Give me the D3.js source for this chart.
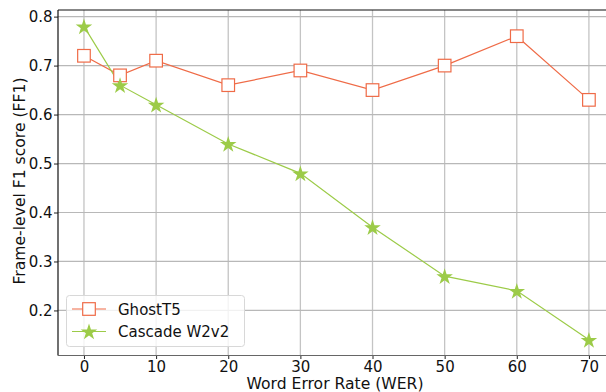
<!DOCTYPE html>
<html>
<head>
<meta charset="utf-8">
<script src="https://cdn.jsdelivr.net/npm/d3@7"></script>
<style>
  body { margin: 0; background: #fff; }
  svg { display: block; font-family: "DejaVu Sans", sans-serif; }
</style>
</head>
<body>
<div id="chart"></div>
<script>
// WER levels and FF1 scores
var wer = [0, 5, 10, 20, 30, 40, 50, 60, 70];
var ghostT5 = [0.72, 0.68, 0.71, 0.66, 0.69, 0.65, 0.70, 0.76, 0.63];
var cascadeW2v2 = [0.78, 0.66, 0.62, 0.54, 0.48, 0.37, 0.27, 0.24, 0.14];
var xTicks = [0, 10, 20, 30, 40, 50, 60, 70];
var yTicks = [0.2, 0.3, 0.4, 0.5, 0.6, 0.7, 0.8];

var W = 606, H = 392;
var pLeft = 58, pTop = 10, pRight = 612, pBottom = 355.5;

var svg = d3.select("#chart").append("svg")
    .attr("width", W)
    .attr("height", H);

var x = d3.scaleLinear().domain([-3.6, 73.2]).range([pLeft, pRight]);
var y = d3.scaleLinear().domain([0.108, 0.8135]).range([pBottom, pTop]);

// grid
svg.append("g").selectAll("line").data(xTicks).enter().append("line")
    .attr("x1", d => x(d)).attr("x2", d => x(d))
    .attr("y1", pTop).attr("y2", pBottom)
    .attr("stroke", "#c4c4c4").attr("stroke-width", 1.3);
svg.append("g").selectAll("line").data(yTicks).enter().append("line")
    .attr("x1", pLeft).attr("x2", pRight)
    .attr("y1", d => y(d)).attr("y2", d => y(d))
    .attr("stroke", "#b8b8b8").attr("stroke-width", 1.2);

// axes
var xAxis = svg.append("g")
    .attr("transform", "translate(0," + pBottom + ")")
    .call(d3.axisBottom(x).tickValues(xTicks).tickSize(3.5).tickPadding(2.5).tickFormat(d3.format("d")));
var yAxis = svg.append("g")
    .attr("transform", "translate(" + pLeft + ",0)")
    .call(d3.axisLeft(y).tickValues(yTicks).tickSize(4).tickPadding(1.5).tickFormat(d3.format(".1f")));
xAxis.select(".domain").remove();
yAxis.select(".domain").remove();
[xAxis, yAxis].forEach(function(a) {
    a.attr("font-size", null).attr("font-family", null);
    a.selectAll("text").style("font-size", "15px").attr("fill", "#111");
    a.selectAll("line").attr("stroke", "#222");
});

// spines
svg.append("line").attr("x1", pLeft).attr("x2", pLeft).attr("y1", pTop).attr("y2", pBottom)
    .attr("stroke", "#111").attr("stroke-width", 1.2);
svg.append("line").attr("x1", pLeft).attr("x2", pRight).attr("y1", pTop).attr("y2", pTop)
    .attr("stroke", "#111").attr("stroke-width", 1.2);
svg.append("line").attr("x1", pLeft).attr("x2", pRight).attr("y1", pBottom).attr("y2", pBottom)
    .attr("stroke", "#666").attr("stroke-width", 1.2);

var orange = "#ef6b47", green = "#9ccb48";
var star = d3.symbol().type(d3.symbolStar).size(85);

var line = d3.line().x(d => x(d[0])).y(d => y(d[1]));
var gData = wer.map((w, i) => [w, ghostT5[i]]);
var cData = wer.map((w, i) => [w, cascadeW2v2[i]]);

svg.append("path").datum(gData).attr("d", line)
    .attr("fill", "none").attr("stroke", orange).attr("stroke-width", 1.2);
svg.append("path").datum(cData).attr("d", line)
    .attr("fill", "none").attr("stroke", green).attr("stroke-width", 1.2);

svg.append("g").selectAll("rect").data(gData).enter().append("rect")
    .attr("x", d => x(d[0]) - 6.3).attr("y", d => y(d[1]) - 6.3)
    .attr("width", 12.6).attr("height", 12.6)
    .attr("fill", "#fff").attr("stroke", orange).attr("stroke-width", 1.2);
svg.append("g").selectAll("path").data(cData).enter().append("path")
    .attr("d", star)
    .attr("transform", d => "translate(" + x(d[0]) + "," + (y(d[1]) + 0.8) + ")")
    .attr("fill", green);

// axis labels
svg.append("text").attr("x", 335).attr("y", 388.5)
    .attr("text-anchor", "middle").style("font-size", "15.6px").attr("fill", "#111")
    .text("Word Error Rate (WER)");
svg.append("text")
    .attr("transform", "translate(25," + 181 + ") rotate(-90)")
    .attr("text-anchor", "middle").style("font-size", "15.6px").attr("fill", "#111")
    .text("Frame-level F1 score (FF1)");

// legend
var lg = svg.append("g");
lg.append("rect").attr("x", 66.5).attr("y", 295.5).attr("width", 178).attr("height", 51)
    .attr("rx", 3).attr("fill", "#fff").attr("fill-opacity", 0.8)
    .attr("stroke", "#d8d8d8").attr("stroke-width", 1);
var items = [
    { name: "GhostT5", color: orange, kind: "square" },
    { name: "Cascade W2v2", color: green, kind: "star" }
];
items.forEach(function(it, i) {
    var cy = 309 + i * 22.5;
    lg.append("line").attr("x1", 72).attr("x2", 106).attr("y1", cy).attr("y2", cy)
        .attr("stroke", it.color).attr("stroke-width", 1.2);
    if (it.kind === "square") {
        lg.append("rect").attr("x", 89 - 6.3).attr("y", cy - 6.3)
            .attr("width", 12.6).attr("height", 12.6)
            .attr("fill", "#fff").attr("stroke", it.color).attr("stroke-width", 1.2);
    } else {
        lg.append("path").attr("d", star)
            .attr("transform", "translate(89," + (cy + 0.8) + ")")
            .attr("fill", it.color);
    }
    lg.append("text").attr("x", 118).attr("y", cy + 5.5)
        .style("font-size", "15px").attr("fill", "#111")
        .text(it.name);
});
</script>
</body>
</html>
